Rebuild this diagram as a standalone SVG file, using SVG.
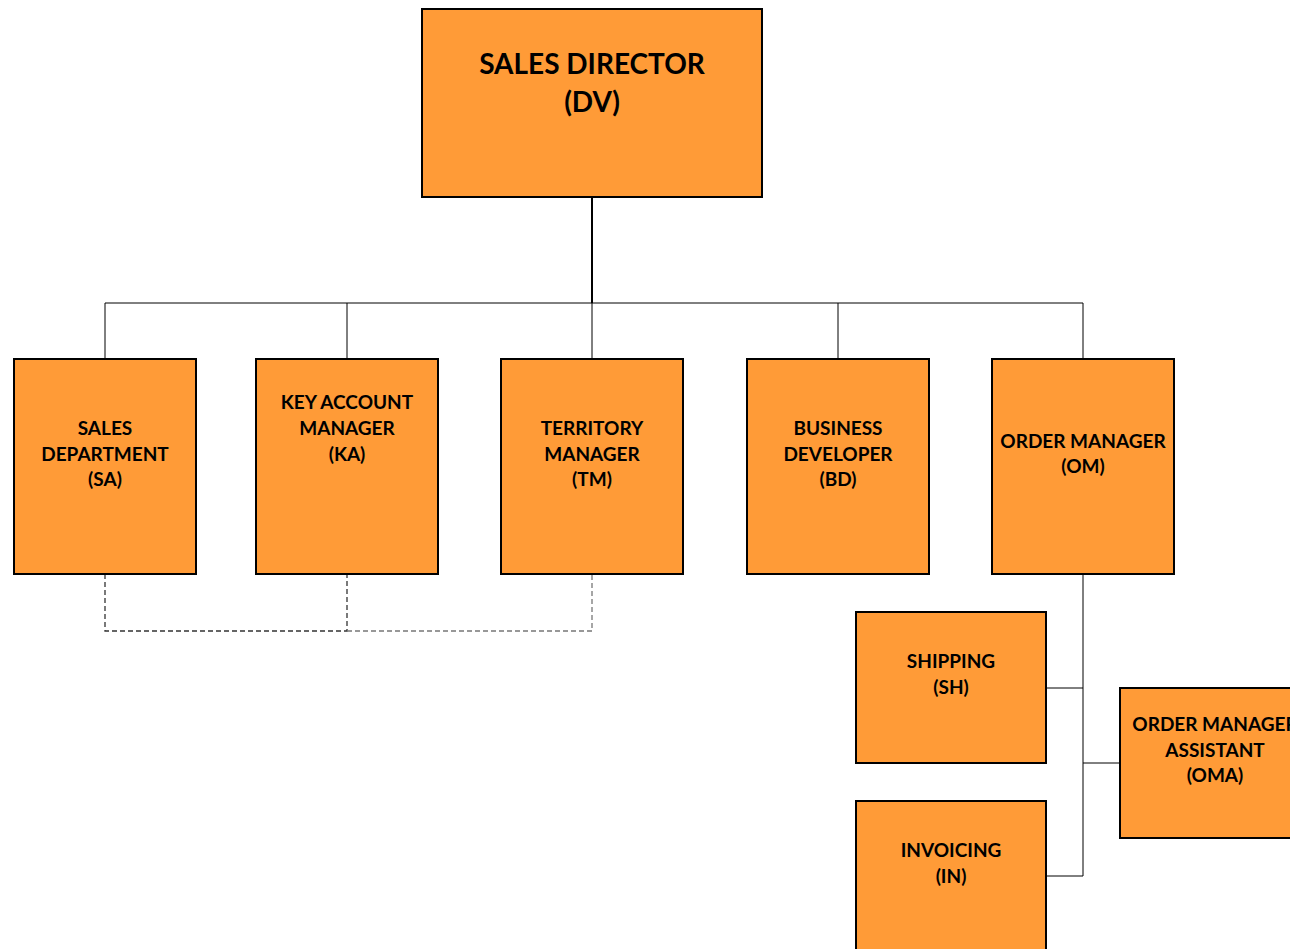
<svg xmlns="http://www.w3.org/2000/svg" width="1290" height="949" viewBox="0 0 1290 949">
<style>
.box{fill:#FF9B37;stroke:#000;stroke-width:2}
.t{font-family:Lato,"Liberation Sans",sans-serif;font-weight:bold;fill:#000;text-anchor:middle;font-size:19px}
.big{font-size:28px}
.ln{fill:none;stroke:#000;stroke-width:1}
</style>
<rect width="1290" height="949" fill="#fff"/>
<g id="connectors">
<line x1="592" y1="197" x2="592" y2="303" stroke="#000" stroke-width="2"/>
<path class="ln" d="M105 359V303H1083V359M347 303V359M592 303V359M838 303V359"/>
<path d="M105 574V631H347V574" fill="none" stroke="#333" stroke-width="1.3" stroke-dasharray="5,3"/>
<path d="M347 631H592V574" fill="none" stroke="#777" stroke-width="1.3" stroke-dasharray="5,3"/>
<path class="ln" d="M1083 574V876H1046M1046 688H1083M1083 763H1120"/>
</g>
<g id="dv"><rect class="box" x="422" y="9" width="340" height="188"/>
<text class="t big" x="592" y="74">SALES DIRECTOR</text><text class="t big" x="592" y="112">(DV)</text></g>
<g id="sa"><rect class="box" x="14" y="359" width="182" height="215"/>
<text class="t" x="105" y="435">SALES</text><text class="t" x="105" y="461">DEPARTMENT</text><text class="t" x="105" y="486">(SA)</text></g>
<g id="ka"><rect class="box" x="256" y="359" width="182" height="215"/>
<text class="t" x="347" y="409">KEY ACCOUNT</text><text class="t" x="347" y="435">MANAGER</text><text class="t" x="347" y="461">(KA)</text></g>
<g id="tm"><rect class="box" x="501" y="359" width="182" height="215"/>
<text class="t" x="592" y="435">TERRITORY</text><text class="t" x="592" y="461">MANAGER</text><text class="t" x="592" y="486">(TM)</text></g>
<g id="bd"><rect class="box" x="747" y="359" width="182" height="215"/>
<text class="t" x="838" y="435">BUSINESS</text><text class="t" x="838" y="461">DEVELOPER</text><text class="t" x="838" y="486">(BD)</text></g>
<g id="om"><rect class="box" x="992" y="359" width="182" height="215"/>
<text class="t" x="1083" y="448">ORDER MANAGER</text><text class="t" x="1083" y="473">(OM)</text></g>
<g id="sh"><rect class="box" x="856" y="612" width="190" height="151"/>
<text class="t" x="951" y="668">SHIPPING</text><text class="t" x="951" y="694">(SH)</text></g>
<g id="oma"><rect class="box" x="1120" y="688" width="180" height="150"/>
<text class="t" x="1215" y="731">ORDER MANAGER</text><text class="t" x="1215" y="757">ASSISTANT</text><text class="t" x="1215" y="782">(OMA)</text></g>
<g id="in"><rect class="box" x="856" y="801" width="190" height="160"/>
<text class="t" x="951" y="857">INVOICING</text><text class="t" x="951" y="883">(IN)</text></g>
</svg>
